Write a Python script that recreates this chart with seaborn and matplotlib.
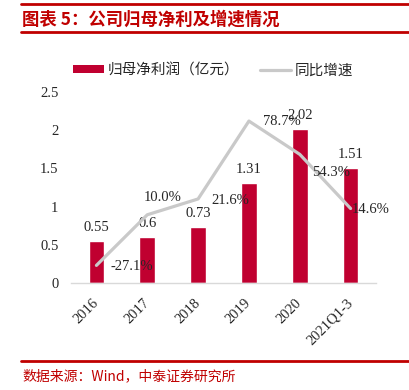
import numpy as np
import pandas as pd
import matplotlib
matplotlib.use("Agg")
import matplotlib.pyplot as plt
from matplotlib.patches import Patch
from matplotlib.lines import Line2D
import seaborn as sns

# data
years = ["2016", "2017", "2018", "2019", "2020", "2021Q1-3"]
profit = [0.55, 0.6, 0.73, 1.31, 2.02, 1.51]          # 归母净利润（亿元）
growth = [-27.1, 10.0, 21.6, 78.7, 54.3, 14.6]       # 同比增速 (%)
y_ticks = [0, 0.5, 1, 1.5, 2, 2.5]
y_tick_labels = ["0", "0.5", "1", "1.5", "2", "2.5"]

# label offsets for growth labels (pixels)
growth_offsets = [(35, -1), (15, 17), (32, -2), (33, 0), (31, -18), (20, -1)]

bar_color = "#C00030"
line_color = "#C9C9C9"
red = "#C00000"
cjk = ["Noto Sans CJK SC", "DejaVu Sans"]
serif = "Liberation Serif"

sns.set_style("white")
plt.rcParams["font.family"] = cjk

df = pd.DataFrame({"year": years, "profit": profit, "growth": growth})

fig = plt.figure(figsize=(4.1, 3.9), dpi=100)
ax = fig.add_axes([0.1732, 0.2744, 0.7439, 0.4897])

sns.barplot(data=df, x="year", y="profit", color=bar_color, width=0.31,
            saturation=1, ax=ax)
ax.set_ylim(0, 2.5)
ax.set_xlim(-0.5, 5.5)
ax.set_yticks(y_ticks)
ax.set_yticklabels(y_tick_labels, fontfamily=serif, fontsize=10.5)
ax.tick_params(axis="y", length=0, pad=9)
ax.tick_params(axis="x", length=0, pad=13)
for lab in ax.get_xticklabels():
    lab.set_fontfamily(serif)
    lab.set_fontsize(10.5)
    lab.set_rotation(45)
    lab.set_ha("right")
    lab.set_va("center")
    lab.set_rotation_mode("anchor")
ax.set_xlabel("")
ax.set_ylabel("")
for s in ["left", "right", "top"]:
    ax.spines[s].set_visible(False)
ax.spines["bottom"].set_color("#D9D9D9")
ax.spines["bottom"].set_linewidth(1)

for cont in ax.containers:
    ax.bar_label(cont, labels=[f"{v:g}" for v in profit], padding=5,
                 fontfamily=serif, fontsize=10.5)

# growth line on secondary axis
ax2 = ax.twinx()
sns.lineplot(x=np.arange(len(years)), y=df["growth"], color=line_color,
             linewidth=2.3, ax=ax2)
ax2.set_ylim(-40, 100)
ax2.set_yticks([])
ax2.set_ylabel("")
for s in ax2.spines.values():
    s.set_visible(False)
for i, (g, off) in enumerate(zip(growth, growth_offsets)):
    ax2.annotate(f"{g:.1f}%", (i, g), xytext=off, textcoords="offset pixels",
                 ha="center", va="center", fontfamily=serif, fontsize=10.5)

# legend
handles = [Patch(facecolor=bar_color, edgecolor="none"),
           Line2D([], [], color=line_color, linewidth=2.3)]
fig.legend(handles, ["归母净利润（亿元）", "同比增速"], loc="center",
           bbox_to_anchor=(0.52, 0.82), ncol=2, frameon=False,
           fontsize=10.5, handlelength=2.1, handleheight=0.5,
           handletextpad=0.3, columnspacing=1.4)

# title block
fig.add_artist(Line2D([0.051, 1], [0.99, 0.99], color=red, linewidth=2))
fig.add_artist(Line2D([0.051, 1], [0.918, 0.918], color=red, linewidth=2))
fig.text(0.054, 0.949, "图表 5：公司归母净利及增速情况", color=red,
         fontsize=12.5, fontweight="bold", ha="left", va="center")

# source
fig.add_artist(Line2D([0.051, 1], [0.074, 0.074], color=red, linewidth=2))
fig.text(0.054, 0.036, "数据来源：Wind，中泰证券研究所", color=red,
         fontsize=10, ha="left", va="center")

fig.savefig("out.png", dpi=100)
